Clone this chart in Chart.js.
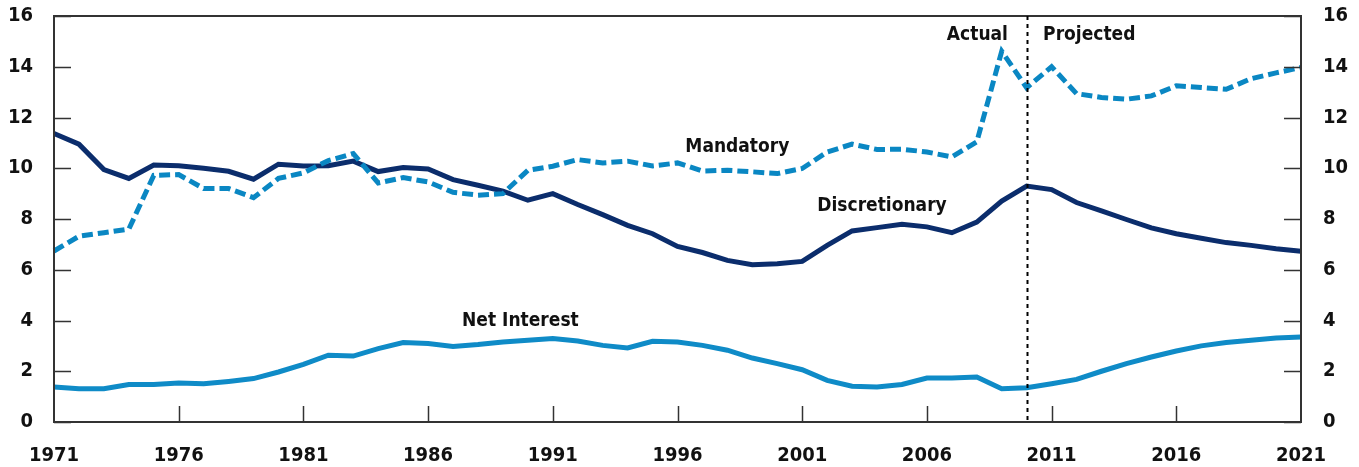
<!DOCTYPE html>
<html>
<head>
<meta charset="utf-8">
<script src="https://cdn.jsdelivr.net/npm/chart.js@4"></script>
<style>
  html, body { margin: 0; padding: 0; background: #fff; }
  #wrap { width: 1359px; height: 467px; }
</style>
</head>
<body>
<div id="wrap"><canvas id="chart" width="1359" height="467"></canvas></div>
<script>
var years = [];
for (var y = 1971; y <= 2021; y++) { years.push(String(y)); }

var discretionary = [11.37, 10.95, 9.95, 9.6, 10.13, 10.1, 10.0, 9.88, 9.57, 10.16,
  10.09, 10.1, 10.28, 9.87, 10.03, 9.97, 9.55, 9.33, 9.1, 8.74,
  9.0, 8.57, 8.17, 7.75, 7.42, 6.92, 6.68, 6.37, 6.2, 6.24,
  6.33, 6.96, 7.53, 7.66, 7.79, 7.69, 7.46, 7.88, 8.71, 9.3,
  9.16, 8.65, 8.32, 7.98, 7.65, 7.42, 7.24, 7.07, 6.96, 6.83, 6.73];

var mandatory = [6.74, 7.32, 7.46, 7.6, 9.72, 9.75, 9.2, 9.2, 8.84, 9.6,
  9.82, 10.3, 10.58, 9.42, 9.63, 9.46, 9.05, 8.94, 9.0, 9.92,
  10.08, 10.34, 10.21, 10.28, 10.09, 10.21, 9.89, 9.92, 9.86, 9.79,
  9.99, 10.64, 10.95, 10.74, 10.75, 10.64, 10.45, 11.04, 14.61, 13.17,
  14.0, 12.94, 12.79, 12.72, 12.85, 13.25, 13.18, 13.11, 13.53, 13.76, 13.97];

var netInterest = [1.38, 1.31, 1.31, 1.48, 1.48, 1.54, 1.51, 1.6, 1.71, 1.97,
  2.27, 2.63, 2.6, 2.89, 3.13, 3.09, 2.98, 3.05, 3.15, 3.22,
  3.29, 3.19, 3.02, 2.92, 3.18, 3.15, 3.02, 2.83, 2.52, 2.3,
  2.06, 1.64, 1.41, 1.38, 1.48, 1.73, 1.73, 1.77, 1.31, 1.35,
  1.51, 1.68, 2.0, 2.3, 2.56, 2.8, 3.0, 3.13, 3.22, 3.31, 3.35];

var yTicks = [0, 2, 4, 6, 8, 10, 12, 14, 16];
var dividerYear = '2010';

// text labels placed on the chart: [text, year, value, align]
var seriesLabels = [
  ['Mandatory', 1998.4, 10.84, 'center'],
  ['Discretionary', 2004.2, 8.51, 'center'],
  ['Net Interest', 1989.7, 3.98, 'center'],
  ['Actual', 2009.25, 15.26, 'right'],
  ['Projected', 2010.66, 15.26, 'left']
];

var FONT = '"DejaVu Sans Condensed", "Liberation Sans Narrow", sans-serif';
var INK = '#111111';
var FRAME = '#333333';

function fitSide(w) {
  return function(s) {
    s.width = w;
    s.paddingTop = 0;
    s.paddingBottom = 0;
  };
}

var framePlugin = {
  id: 'framePlugin',
  afterDatasetsDraw: function(chart) {
    var ctx = chart.ctx;
    var a = chart.chartArea;
    var xs = chart.scales.x;
    var ys = chart.scales.y;
    ctx.save();
    ctx.strokeStyle = FRAME;
    ctx.lineWidth = 2;
    ctx.strokeRect(a.left, a.top, a.right - a.left, a.bottom - a.top);
    ctx.lineWidth = 1.5;
    // y ticks pointing inwards on both sides
    yTicks.forEach(function(v) {
      var py = Math.round(ys.getPixelForValue(v)) + 0.5;
      ctx.beginPath();
      ctx.moveTo(a.left, py); ctx.lineTo(a.left + 17, py);
      ctx.moveTo(a.right, py); ctx.lineTo(a.right - 17, py);
      ctx.stroke();
    });
    // x ticks every 5 years, pointing up
    years.forEach(function(yr, i) {
      var n = Number(yr);
      if ((n - 1971) % 5 === 0 && n !== 1971 && n !== 2021) {
        var px = Math.round(xs.getPixelForValue(i)) + 0.5;
        ctx.beginPath();
        ctx.moveTo(px, a.bottom); ctx.lineTo(px, a.bottom - 16);
        ctx.stroke();
      }
    });
    // divider between actual and projected
    var dx = Math.round(xs.getPixelForValue(years.indexOf(dividerYear))) + 0.5;
    ctx.strokeStyle = '#000';
    ctx.lineWidth = 2;
    ctx.setLineDash([4, 4]);
    ctx.beginPath();
    ctx.moveTo(dx, a.top); ctx.lineTo(dx, a.bottom);
    ctx.stroke();
    ctx.setLineDash([]);
    // series labels
    ctx.fillStyle = INK;
    ctx.font = 'bold 19px ' + FONT;
    ctx.textBaseline = 'middle';
    seriesLabels.forEach(function(l) {
      var px = xs.getPixelForValue(l[1] - 1971);
      var py = ys.getPixelForValue(l[2]);
      ctx.textAlign = l[3];
      ctx.fillText(l[0], px, py);
    });
    ctx.restore();
  }
};

var ctx = document.getElementById('chart').getContext('2d');
var myChart = new Chart(ctx, {
  type: 'line',
  data: {
    labels: years,
    datasets: [
      {
        label: 'Mandatory',
        data: mandatory,
        borderColor: '#0a87c3',
        borderWidth: 5,
        borderDash: [11, 5],
        borderCapStyle: 'butt',
        pointRadius: 0,
        tension: 0
      },
      {
        label: 'Discretionary',
        data: discretionary,
        borderColor: '#0b2d6c',
        borderWidth: 5,
        pointRadius: 0,
        tension: 0
      },
      {
        label: 'Net Interest',
        data: netInterest,
        borderColor: '#0f8bc7',
        borderWidth: 5,
        pointRadius: 0,
        tension: 0
      }
    ]
  },
  plugins: [framePlugin],
  options: {
    responsive: false,
    animation: false,
    layout: { padding: { top: 16, left: 0, right: 0, bottom: 0 } },
    plugins: { legend: { display: false }, tooltip: { enabled: false } },
    scales: {
      x: {
        type: 'category',
        offset: false,
        grid: { display: false, drawTicks: false },
        border: { display: false },
        afterFit: function(s) { s.height = 45; s.paddingLeft = 0; s.paddingRight = 0; },
        ticks: {
          autoSkip: false,
          maxRotation: 0,
          padding: 22,
          color: INK,
          font: { family: FONT, size: 20, weight: 'bold' },
          callback: function(v, i) {
            return (Number(years[i]) - 1971) % 5 === 0 ? years[i] : null;
          }
        }
      },
      y: {
        position: 'left',
        min: 0, max: 16,
        grid: { display: false, drawTicks: false },
        border: { display: false },
        afterFit: fitSide(54),
        afterBuildTicks: function(s) { s.ticks = yTicks.map(function(v) { return { value: v }; }); },
        ticks: {
          padding: 21,
          color: INK,
          font: { family: FONT, size: 20, weight: 'bold' }
        }
      },
      y2: {
        position: 'right',
        min: 0, max: 16,
        grid: { display: false, drawTicks: false },
        border: { display: false },
        afterFit: fitSide(58),
        afterBuildTicks: function(s) { s.ticks = yTicks.map(function(v) { return { value: v }; }); },
        ticks: {
          padding: 22,
          color: INK,
          font: { family: FONT, size: 20, weight: 'bold' }
        }
      }
    }
  }
});
</script>
</body>
</html>
